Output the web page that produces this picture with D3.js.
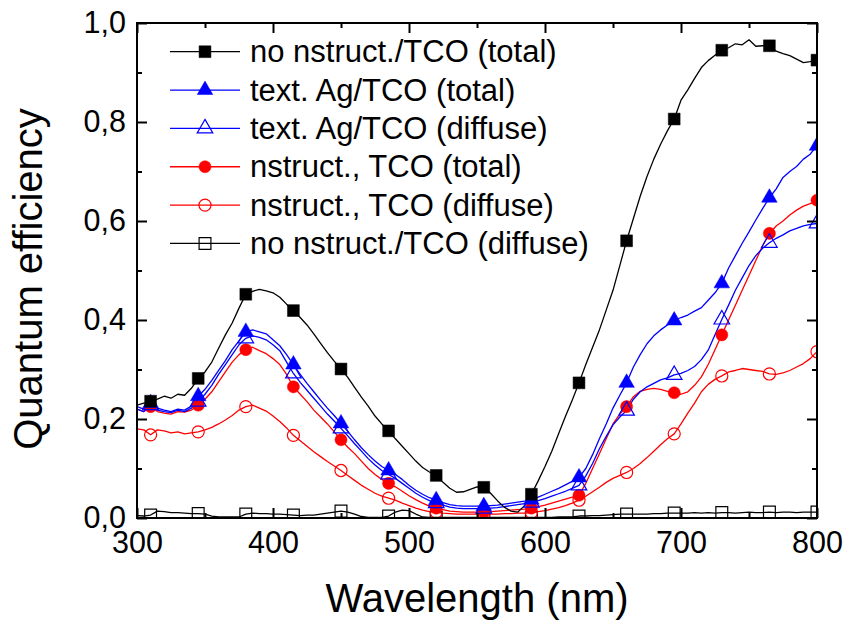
<!DOCTYPE html>
<html><head><meta charset="utf-8">
<script src="https://cdn.jsdelivr.net/npm/d3@7"></script>
<style>body{margin:0;background:#fff}svg{display:block}text{font-family:"Liberation Sans",Arial,Helvetica,sans-serif;fill:#000}</style>
</head><body><svg id="c" width="846" height="624"></svg>
<script>
// ---- data ----
const wavelength = [300,305,310,315,320,325,330,335,340,345,350,355,360,365,370,375,380,385,390,395,400,405,410,415,420,425,430,435,440,445,450,455,460,465,470,475,480,485,490,495,500,505,510,515,520,525,530,535,540,545,550,555,560,565,570,575,580,585,590,595,600,605,610,615,620,625,630,635,640,645,650,655,660,665,670,675,680,685,690,695,700,705,710,715,720,725,730,735,740,745,750,755,760,765,770,775,780,785,790,795,800];
const noNstructTotal = [0.228,0.232,0.236,0.240,0.246,0.242,0.250,0.248,0.262,0.282,0.295,0.315,0.343,0.370,0.394,0.424,0.452,0.458,0.462,0.459,0.455,0.446,0.432,0.419,0.405,0.390,0.372,0.353,0.334,0.317,0.301,0.284,0.264,0.244,0.226,0.206,0.190,0.176,0.160,0.145,0.130,0.115,0.102,0.093,0.086,0.072,0.060,0.052,0.053,0.058,0.063,0.062,0.050,0.035,0.022,0.014,0.012,0.025,0.048,0.075,0.104,0.135,0.170,0.205,0.238,0.273,0.310,0.345,0.380,0.420,0.460,0.510,0.560,0.605,0.650,0.690,0.725,0.755,0.782,0.806,0.844,0.865,0.888,0.910,0.924,0.935,0.945,0.950,0.958,0.956,0.966,0.953,0.954,0.954,0.943,0.938,0.934,0.927,0.920,0.922,0.925];
const texAgTotal = [0.225,0.220,0.232,0.222,0.218,0.215,0.220,0.218,0.226,0.246,0.260,0.278,0.298,0.318,0.340,0.358,0.376,0.380,0.376,0.372,0.360,0.348,0.330,0.310,0.290,0.272,0.255,0.238,0.222,0.207,0.191,0.175,0.158,0.142,0.128,0.115,0.104,0.096,0.088,0.078,0.066,0.056,0.048,0.041,0.036,0.031,0.027,0.025,0.024,0.024,0.024,0.024,0.025,0.026,0.028,0.030,0.032,0.034,0.037,0.042,0.048,0.054,0.060,0.067,0.074,0.082,0.100,0.128,0.160,0.190,0.222,0.248,0.273,0.305,0.330,0.352,0.368,0.380,0.390,0.399,0.405,0.410,0.418,0.425,0.440,0.455,0.474,0.505,0.530,0.555,0.578,0.602,0.625,0.647,0.665,0.688,0.700,0.710,0.725,0.735,0.752];
const texAgDiffuse = [0.220,0.215,0.228,0.218,0.215,0.213,0.218,0.215,0.222,0.235,0.250,0.268,0.290,0.310,0.330,0.350,0.363,0.368,0.365,0.360,0.350,0.338,0.315,0.292,0.274,0.258,0.242,0.226,0.210,0.196,0.181,0.166,0.150,0.135,0.120,0.107,0.096,0.088,0.080,0.070,0.060,0.050,0.042,0.035,0.030,0.026,0.022,0.020,0.019,0.019,0.019,0.019,0.020,0.021,0.023,0.025,0.027,0.029,0.031,0.035,0.039,0.044,0.049,0.054,0.060,0.066,0.085,0.110,0.140,0.165,0.188,0.204,0.217,0.240,0.255,0.265,0.272,0.279,0.283,0.289,0.292,0.298,0.306,0.320,0.339,0.370,0.401,0.430,0.460,0.485,0.510,0.530,0.545,0.556,0.565,0.572,0.580,0.585,0.590,0.593,0.595];
const nstructTotal = [0.220,0.215,0.225,0.215,0.212,0.210,0.215,0.214,0.218,0.228,0.240,0.255,0.275,0.295,0.315,0.330,0.340,0.345,0.338,0.332,0.322,0.310,0.290,0.265,0.250,0.235,0.218,0.204,0.190,0.174,0.158,0.143,0.130,0.115,0.100,0.088,0.078,0.070,0.063,0.054,0.045,0.037,0.030,0.024,0.020,0.017,0.014,0.013,0.012,0.012,0.012,0.012,0.013,0.014,0.015,0.016,0.017,0.018,0.020,0.023,0.026,0.030,0.034,0.038,0.042,0.046,0.070,0.100,0.130,0.160,0.190,0.210,0.225,0.245,0.256,0.260,0.262,0.260,0.256,0.253,0.250,0.255,0.268,0.285,0.310,0.340,0.370,0.400,0.430,0.460,0.490,0.520,0.550,0.575,0.590,0.600,0.612,0.622,0.630,0.635,0.642];
const nstructDiffuse = [0.180,0.178,0.168,0.178,0.176,0.172,0.174,0.170,0.172,0.174,0.178,0.183,0.190,0.198,0.207,0.218,0.225,0.228,0.222,0.216,0.206,0.195,0.182,0.167,0.156,0.145,0.134,0.124,0.114,0.105,0.096,0.086,0.076,0.066,0.058,0.050,0.044,0.040,0.036,0.030,0.025,0.020,0.016,0.013,0.012,0.010,0.009,0.008,0.008,0.008,0.008,0.008,0.008,0.008,0.009,0.009,0.010,0.010,0.011,0.013,0.015,0.018,0.021,0.025,0.030,0.036,0.044,0.053,0.062,0.072,0.080,0.086,0.092,0.100,0.110,0.122,0.135,0.148,0.160,0.170,0.190,0.212,0.232,0.255,0.270,0.280,0.287,0.295,0.298,0.302,0.300,0.298,0.296,0.291,0.290,0.293,0.298,0.305,0.312,0.322,0.336];
const noNstructDiffuse = [0.005,0.004,0.006,0.014,0.013,0.011,0.011,0.010,0.009,0.009,0.008,0.004,0.002,0.002,0.002,0.002,0.008,0.010,0.009,0.009,0.008,0.008,0.007,0.006,0.005,0.006,0.006,0.008,0.010,0.012,0.014,0.012,0.008,0.003,0.001,0.001,0.001,0.004,0.012,0.016,0.015,0.008,0.002,0.001,0.001,0.001,0.001,0.001,0.001,0.001,0.001,0.001,0.001,0.001,0.001,0.001,0.001,0.001,0.001,0.001,0.001,0.001,0.002,0.002,0.002,0.004,0.004,0.005,0.005,0.006,0.007,0.008,0.008,0.008,0.008,0.008,0.009,0.009,0.010,0.010,0.010,0.010,0.011,0.010,0.011,0.010,0.011,0.011,0.010,0.011,0.012,0.011,0.011,0.012,0.011,0.012,0.012,0.011,0.012,0.012,0.012];
const markerWavelengths = [310,345,380,415,450,485,520,555,590,625,660,695,730,765,800];
const xTicks = [300,400,500,600,700,800];
const xMinorTicks = [350,450,550,650,750];
const yTicks = [0,0.2,0.4,0.6,0.8,1.0];
const yMinorTicks = [0.1,0.3,0.5,0.7,0.9];
const seriesNames = ["no nstruct./TCO (total)","text. Ag/TCO (total)","text. Ag/TCO (diffuse)","nstruct., TCO (total)","nstruct., TCO (diffuse)","no nstruct./TCO (diffuse)"];
const xTitle = "Wavelength (nm)";
const yTitle = "Quantum efficiency";

// ---- styles ----
const series = [
  {name:seriesNames[0], values:noNstructTotal, color:"#000000", shape:"square", filled:true},
  {name:seriesNames[1], values:texAgTotal, color:"#0000ff", shape:"triangle", filled:true},
  {name:seriesNames[2], values:texAgDiffuse, color:"#0000ff", shape:"triangle", filled:false},
  {name:seriesNames[3], values:nstructTotal, color:"#ff0000", shape:"circle", filled:true},
  {name:seriesNames[4], values:nstructDiffuse, color:"#ff0000", shape:"circle", filled:false},
  {name:seriesNames[5], values:noNstructDiffuse, color:"#000000", shape:"square", filled:false}
];
const L=137,R=817,T=23,B=518;
const x = d3.scaleLinear([300,800],[L,R]);
const y = d3.scaleLinear([0,1],[B,T]);
const svg = d3.select("#c");
const fmt = d3.formatLocale({decimal:",",thousands:".",grouping:[3],currency:["",""]}).format(".1f");

svg.append("defs").append("clipPath").attr("id","clip")
  .append("rect").attr("x",L).attr("y",T).attr("width",R-L).attr("height",B-T);

const symType = {square:d3.symbolSquare, triangle:d3.symbolTriangle, circle:d3.symbolCircle};
const symSize = {square:140, triangle:105, circle:115};
function marker(g, s, cx, cy){
  g.append("path").attr("d", d3.symbol(symType[s.shape], symSize[s.shape])())
   .attr("transform",`translate(${cx},${cy})`)
   .attr("fill", s.filled ? s.color : "none")
   .attr("stroke", s.color).attr("stroke-width", s.filled?0.5:1.2);
}

const plot = svg.append("g").attr("clip-path","url(#clip)");
const line = d3.line().x((d,i)=>x(wavelength[i])).y(d=>y(d));
const drawOrder = [5,4,3,2,1,0];
drawOrder.forEach(k=>{
  const s = series[k];
  plot.append("path").attr("d", line(s.values)).attr("fill","none")
    .attr("stroke", s.color).attr("stroke-width",1.3).attr("stroke-linejoin","round");
});
drawOrder.forEach(k=>{
  const s = series[k];
  markerWavelengths.forEach(w=>{
    const i = wavelength.indexOf(w);
    marker(plot, s, x(w), y(s.values[i]));
  });
});

// ---- axes ----
function styleAxis(g){ g.select(".domain").remove(); g.selectAll("line").attr("stroke","#000").attr("stroke-width",2); }
const fs = 30.5;
const gx = svg.append("g").attr("transform",`translate(0,${B})`)
  .call(d3.axisBottom(x).tickValues(xTicks).tickSize(-10).tickSizeOuter(0).tickPadding(13).tickFormat(d3.format("d")));
styleAxis(gx); gx.selectAll("text").attr("font-size",fs).attr("font-family",null);
const gxm = svg.append("g").attr("transform",`translate(0,${B})`)
  .call(d3.axisBottom(x).tickValues(xMinorTicks).tickSize(-5).tickFormat(""));
styleAxis(gxm);
const gxt = svg.append("g").attr("transform",`translate(0,${T})`)
  .call(d3.axisTop(x).tickValues(xTicks).tickSize(-10).tickFormat(""));
styleAxis(gxt);
const gxtm = svg.append("g").attr("transform",`translate(0,${T})`)
  .call(d3.axisTop(x).tickValues(xMinorTicks).tickSize(-5).tickFormat(""));
styleAxis(gxtm);
const gy = svg.append("g").attr("transform",`translate(${L},0)`)
  .call(d3.axisLeft(y).tickValues(yTicks).tickSize(-10).tickPadding(11).tickFormat(fmt));
styleAxis(gy); gy.selectAll("text").attr("font-size",fs).attr("font-family",null);
const gym = svg.append("g").attr("transform",`translate(${L},0)`)
  .call(d3.axisLeft(y).tickValues(yMinorTicks).tickSize(-5).tickFormat(""));
styleAxis(gym);
const gyr = svg.append("g").attr("transform",`translate(${R},0)`)
  .call(d3.axisRight(y).tickValues(yTicks).tickSize(-10).tickFormat(""));
styleAxis(gyr);
const gyrm = svg.append("g").attr("transform",`translate(${R},0)`)
  .call(d3.axisRight(y).tickValues(yMinorTicks).tickSize(-5).tickFormat(""));
styleAxis(gyrm);

svg.append("rect").attr("x",L).attr("y",T).attr("width",R-L).attr("height",B-T)
  .attr("fill","none").attr("stroke","#000").attr("stroke-width",2);

// ---- titles ----
svg.append("text").attr("x",(L+R)/2).attr("y",612).attr("text-anchor","middle")
  .attr("font-size",40).text(xTitle);
svg.append("text").attr("transform","translate(42,279) rotate(-90)").attr("text-anchor","middle")
  .attr("font-size",40).text(yTitle);

// ---- legend ----
const legY0 = 51.7, legDy = 38.35;
const leg = svg.append("g");
series.forEach((s,k)=>{
  const yy = legY0 + k*legDy;
  leg.append("line").attr("x1",170).attr("x2",240).attr("y1",yy).attr("y2",yy)
    .attr("stroke",s.color).attr("stroke-width",1.3);
  marker(leg, s, 205, yy);
  leg.append("text").attr("x",250).attr("y",yy+10.5).attr("font-size",31).text(s.name);
});
</script></body></html>
